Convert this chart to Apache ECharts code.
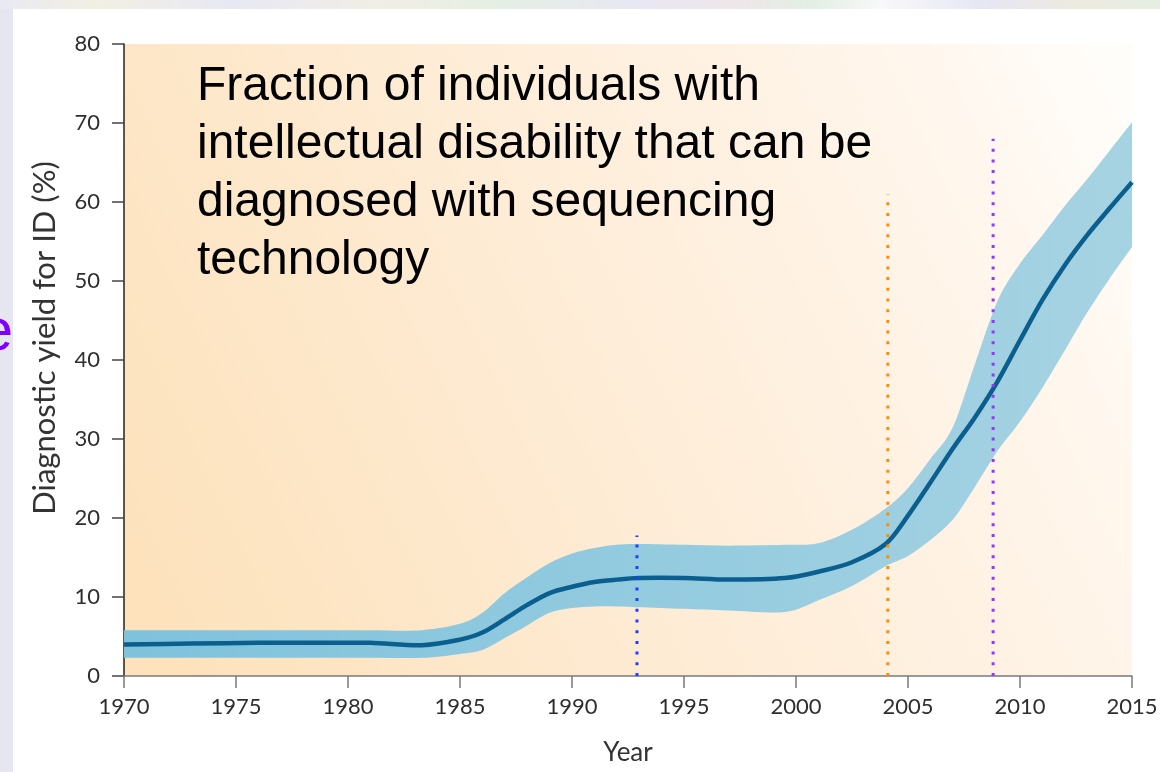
<!DOCTYPE html>
<html>
<head>
<meta charset="utf-8">
<script src="https://cdn.jsdelivr.net/npm/echarts@6/dist/echarts.min.js"></script>
<style>
  html, body { margin: 0; padding: 0; background: #ffffff; }
  #chart { width: 1160px; height: 772px; }
</style>
</head>
<body>
<div id="chart"></div>
<script>
// Diagnostic yield for intellectual disability over time (%)
const years = [1970, 1973, 1976, 1979, 1981, 1983.3, 1985, 1986, 1987, 1988, 1989, 1990, 1991, 1992, 1993, 1995, 1997, 1999.5, 2001, 2002.5, 2004, 2005, 2006, 2007, 2008, 2009, 2010, 2011, 2012, 2013, 2014, 2015];
const meanYield = [4.0, 4.1, 4.2, 4.2, 4.2, 3.9, 4.6, 5.5, 7.2, 9.0, 10.5, 11.3, 11.9, 12.2, 12.4, 12.4, 12.2, 12.4, 13.2, 14.4, 16.7, 20.3, 24.5, 28.8, 32.8, 37.3, 42.5, 47.6, 52.0, 55.8, 59.2, 62.5];
const lowerBound = [2.3, 2.3, 2.3, 2.3, 2.3, 2.3, 2.8, 3.3, 4.8, 6.4, 8.0, 8.6, 8.8, 8.8, 8.7, 8.5, 8.3, 8.1, 9.6, 11.4, 13.9, 15.2, 17.2, 19.8, 24.0, 28.5, 32.2, 36.5, 41.2, 46.0, 50.3, 54.3];
const upperBound = [5.8, 5.8, 5.8, 5.8, 5.8, 5.8, 6.6, 8.0, 10.5, 12.5, 14.3, 15.5, 16.2, 16.6, 16.7, 16.6, 16.5, 16.6, 16.8, 18.5, 21.2, 23.8, 27.5, 31.5, 39.6, 47.5, 52.2, 55.8, 59.5, 62.9, 66.5, 70.1];

// Technology milestones drawn as dotted verticals
const milestoneYears = [1992.9, 2004.1, 2008.8];
const milestoneTops = [17.8, 61.0, 68.0];
const milestoneColors = ['#1f3dff', '#ff8c00', '#9933ff'];

const xMin = 1970, xMax = 2015, xStep = 5;
const yMin = 0, yMax = 80, yStep = 10;

const titleLines = [
  'Fraction of individuals with',
  'intellectual disability that can be',
  'diagnosed with sequencing',
  'technology'
];
const xName = 'Year';
const yName = 'Diagnostic yield for ID (%)';

const tickFont = 'Lato, "Open Sans", sans-serif';

// Catmull-Rom style cubic path through pixel points
function curveThrough(pts, k, moveFirst) {
  let d = moveFirst ? `M${pts[0][0]},${pts[0][1]}` : `L${pts[0][0]},${pts[0][1]}`;
  for (let i = 0; i < pts.length - 1; i++) {
    const p0 = pts[Math.max(i - 1, 0)], p1 = pts[i], p2 = pts[i + 1], p3 = pts[Math.min(i + 2, pts.length - 1)];
    const c1 = [p1[0] + (p2[0] - p0[0]) * k, p1[1] + (p2[1] - p0[1]) * k];
    const c2 = [p2[0] - (p3[0] - p1[0]) * k, p2[1] - (p3[1] - p1[1]) * k];
    d += ` C${c1[0]},${c1[1]} ${c2[0]},${c2[1]} ${p2[0]},${p2[1]}`;
  }
  return d;
}

// Uncertainty band between lower and upper bounds
const bandSeries = {
  type: 'custom',
  silent: true,
  z: 3,
  data: [[xMin, yMin]],
  renderItem: (params, api) => {
    const top = years.map((y, i) => api.coord([y, upperBound[i]]));
    const bottom = years.map((y, i) => api.coord([y, lowerBound[i]])).reverse();
    const pathData = curveThrough(top, 0.16, true) + ' ' + curveThrough(bottom, 0.16, false) + ' Z';
    return {
      type: 'path',
      shape: { pathData: pathData },
      style: {
        fill: {
          type: 'linear', x: 0, y: 0, x2: 1, y2: 0,
          colorStops: [{ offset: 0, color: '#7fc2dc' }, { offset: 1, color: '#a6d3e2' }]
        },
        stroke: null
      }
    };
  }
};

// Mean yield curve
const meanSeries = {
  type: 'custom',
  silent: true,
  z: 4,
  data: [[xMin, yMin]],
  renderItem: (params, api) => {
    const pts = years.map((y, i) => api.coord([y, meanYield[i]]));
    return {
      type: 'path',
      shape: { pathData: curveThrough(pts, 0.16, true) },
      style: { fill: null, stroke: '#0b5f8e', lineWidth: 4.5, lineJoin: 'round', lineCap: 'butt' }
    };
  }
};

const milestoneSeries = milestoneYears.map((yr, i) => ({
  type: 'line',
  data: [[yr, 0], [yr, milestoneTops[i]]],
  symbol: 'none',
  silent: true,
  z: 6,
  lineStyle: { color: milestoneColors[i], width: 3, type: [3, 7.7], cap: 'butt' }
}));

const chart = echarts.init(document.getElementById('chart'), null, { renderer: 'canvas' });

chart.setOption({
  backgroundColor: '#ffffff',
  animation: false,
  grid: {
    left: 124, right: 28, top: 44, bottom: 96,
    containLabel: false,
    outerBoundsMode: 'none',
    show: true,
    borderWidth: 0,
    backgroundColor: {
      type: 'linear', x: 0, y: 0.85, x2: 1, y2: 0.1,
      colorStops: [
        { offset: 0, color: '#fde2bb' },
        { offset: 0.45, color: '#feecd6' },
        { offset: 0.8, color: '#fff5ea' },
        { offset: 1, color: '#fffdfa' }
      ]
    }
  },
  xAxis: {
    type: 'value',
    min: xMin, max: xMax, interval: xStep,
    name: xName,
    nameLocation: 'middle',
    nameGap: 64,
    nameTextStyle: { fontFamily: tickFont, fontSize: 26, color: '#333333' },
    axisLine: { show: true, lineStyle: { color: '#7a7a7a', width: 1.5 } },
    axisTick: { show: true, length: 12, lineStyle: { color: '#7a7a7a', width: 1.5 } },
    axisLabel: {
      margin: 20, fontFamily: tickFont, fontSize: 22, color: '#2e2e2e',
      formatter: v => String(v)
    },
    splitLine: { show: false }
  },
  yAxis: {
    type: 'value',
    min: yMin, max: yMax, interval: yStep,
    axisLine: { show: true, lineStyle: { color: '#222222', width: 1.5 } },
    axisTick: { show: true, length: 12, lineStyle: { color: '#444444', width: 1.5 } },
    axisLabel: { margin: 24, fontFamily: tickFont, fontSize: 22, color: '#2e2e2e' },
    splitLine: { show: false }
  },
  graphic: [
    // slide strips around the white panel
    { type: 'rect', left: 0, top: 0, z: -10, shape: { width: 13, height: 772 }, style: { fill: '#e6e6f1' } },
    {
      type: 'rect', left: 0, top: 0, z: -10, shape: { width: 1160, height: 9 },
      style: {
        fill: {
          type: 'linear', x: 0, y: 0, x2: 1, y2: 0,
          colorStops: [
            { offset: 0, color: '#e9e9f3' }, { offset: 0.08, color: '#f2efe2' },
            { offset: 0.2, color: '#e8e8f5' }, { offset: 0.33, color: '#f1eee4' },
            { offset: 0.43, color: '#e4efe3' }, { offset: 0.55, color: '#e8e7f4' },
            { offset: 0.63, color: '#efe6ea' }, { offset: 0.7, color: '#e2efe3' },
            { offset: 0.76, color: '#f8f8fa' }, { offset: 0.85, color: '#e6e6f4' },
            { offset: 0.93, color: '#eeeadf' }, { offset: 1, color: '#e3efe2' }
          ]
        }
      }
    },
    {
      type: 'text', x: 13, y: 333, z: -9,
      style: { text: 'e', fill: '#8000ff', font: '60px "Liberation Sans", Arial, sans-serif', textAlign: 'right', textVerticalAlign: 'middle' }
    },
    // y axis title
    {
      type: 'text', x: 45, y: 338, rotation: Math.PI / 2, z: 10,
      style: { text: yName, fill: '#333333', font: '31px Lato, "Open Sans", sans-serif', textAlign: 'center', textVerticalAlign: 'middle' }
    },
    // annotation
    {
      type: 'text', left: 197, top: 58, z: 10,
      style: { text: titleLines.join('\n'), fill: '#000000', font: '48px "Liberation Sans", Arial, sans-serif', lineHeight: 58 }
    }
  ],
  series: [
    bandSeries,
    meanSeries,
    ...milestoneSeries
  ]
});
</script>
</body>
</html>
